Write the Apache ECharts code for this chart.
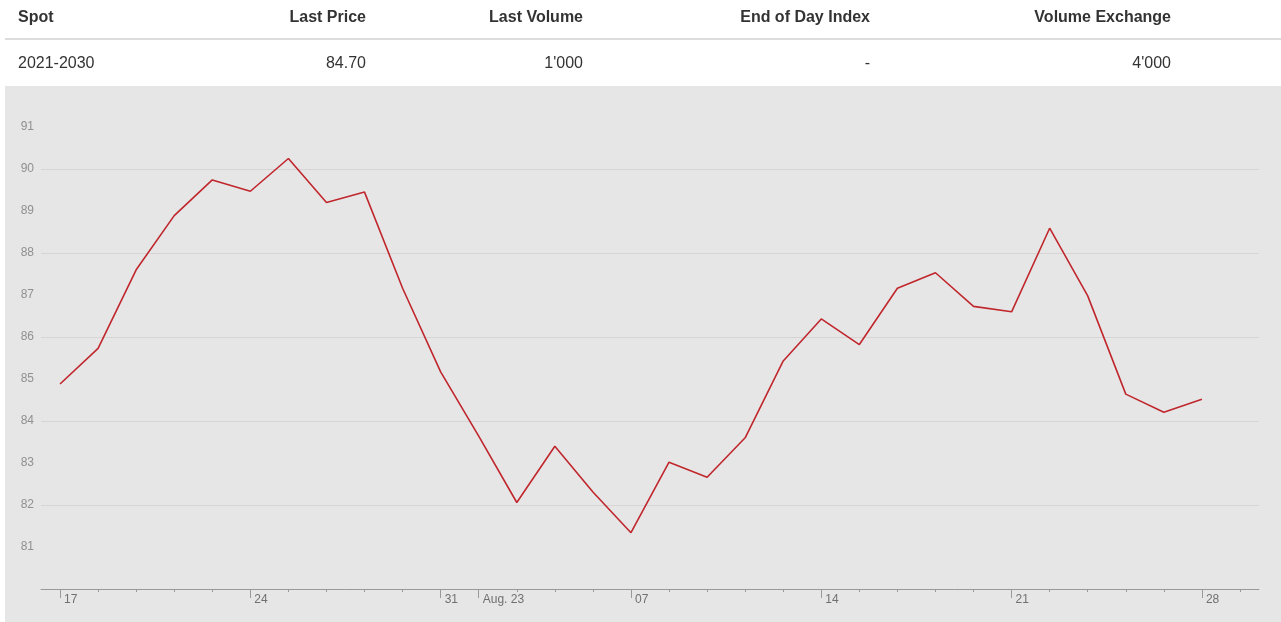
<!DOCTYPE html>
<html>
<head>
<meta charset="utf-8">
<script src="https://cdn.jsdelivr.net/npm/echarts@6/dist/echarts.min.js"></script>
<style>
html,body{margin:0;padding:0;background:#fff;}
#chart{width:1281px;height:622px;}
</style>
</head>
<body>
<div id="chart"></div>
<script>
// Table header and row
const tableHeaders = ['Spot', 'Last Price', 'Last Volume', 'End of Day Index', 'Volume Exchange'];
const tableRow = ['2021-2030', '84.70', "1'000", '-', "4'000"];

// X axis categories (one per trading day, plus one empty slot at the end)
const categories = ['17','18','19','20','21','24','25','26','27','28','31',
  'Aug. 23','24','25','26','07','08','09','10','11','14','15','16','17','18',
  '21','22','23','24','25','28','29'];
// indices of categories that carry a label and a major tick
const labeledIdx = [0, 5, 10, 11, 15, 20, 25, 30];

// Price series
const prices = [84.88, 85.73, 87.60, 88.89, 89.74, 89.47, 90.25, 89.20, 89.45, 87.16,
  85.17, 83.64, 82.06, 83.40, 82.31, 81.34, 83.02, 82.66, 83.60, 85.43,
  86.43, 85.82, 87.16, 87.53, 86.73, 86.60, 88.59, 86.98, 84.64, 84.21, 84.52];

const yMin = 80, yMax = 92;

const chart = echarts.init(document.getElementById('chart'), null, {renderer: 'canvas'});
const FONT = 'Liberation Sans, Arial, sans-serif';

const colRight = [null, 366, 583, 870, 1171];
const graphics = [
  {type: 'rect', z: -100, silent: true, shape: {x: 5, y: 86, width: 1276, height: 536}, style: {fill: '#e6e6e6'}},
  {type: 'rect', z: 10, silent: true, shape: {x: 5, y: 38, width: 1276, height: 2}, style: {fill: '#dddddd'}}
];
tableHeaders.forEach((h, i) => {
  graphics.push({type: 'text', z: 10, x: i === 0 ? 18 : colRight[i], y: 18,
    style: {text: h, fill: '#333333', font: 'bold 16px ' + FONT, align: i === 0 ? 'left' : 'right', verticalAlign: 'middle'}});
});
tableRow.forEach((v, i) => {
  graphics.push({type: 'text', z: 10, x: i === 0 ? 18 : colRight[i], y: 64,
    style: {text: v, fill: '#333333', font: '16px ' + FONT, align: i === 0 ? 'left' : 'right', verticalAlign: 'middle'}});
});

chart.setOption({
  animation: false,
  backgroundColor: 'transparent',
  graphic: graphics,
  grid: {left: 41, right: 22, top: 85, bottom: 33, containLabel: false},
  xAxis: [
    {
      type: 'category', data: categories, boundaryGap: true,
      axisLine: {show: true, lineStyle: {color: '#999999', width: 1}},
      axisTick: {show: true, alignWithLabel: true, interval: 0, length: 3, lineStyle: {color: '#999999'}},
      axisLabel: {
        show: true, interval: 0, align: 'left', margin: 5, padding: [0, 0, 0, 4],
        color: '#707070', fontSize: 12, fontFamily: FONT,
        formatter: (v, idx) => labeledIdx.indexOf(idx) >= 0 ? v : ''
      },
      splitLine: {show: false}
    },
    {
      type: 'category', data: categories, boundaryGap: true, position: 'bottom',
      axisLine: {show: false},
      axisTick: {show: true, alignWithLabel: true, length: 9, lineStyle: {color: '#999999'},
        interval: (idx) => labeledIdx.indexOf(idx) >= 0},
      axisLabel: {show: false},
      splitLine: {show: false}
    }
  ],
  yAxis: [
    {
      type: 'value', min: yMin, max: yMax, interval: 1,
      axisLine: {show: false}, axisTick: {show: false},
      axisLabel: {show: true, showMinLabel: false, showMaxLabel: false, margin: 7,
        padding: [4, 0, 0, 0],
        color: '#909090', fontSize: 12, fontFamily: FONT},
      splitLine: {show: false}
    },
    {
      type: 'value', min: yMin, max: yMax, interval: 2, position: 'left',
      axisLine: {show: false}, axisTick: {show: false}, axisLabel: {show: false},
      splitLine: {show: true, showMinLine: false, showMaxLine: false, lineStyle: {color: '#d9d4d4', width: 1}}
    }
  ],
  series: [{
    type: 'line', data: prices, xAxisIndex: 0, yAxisIndex: 0,
    showSymbol: false, symbol: 'none',
    lineStyle: {color: '#c0272d', width: 1.6},
    itemStyle: {color: '#c0272d'}
  }]
});
</script>
</body>
</html>
